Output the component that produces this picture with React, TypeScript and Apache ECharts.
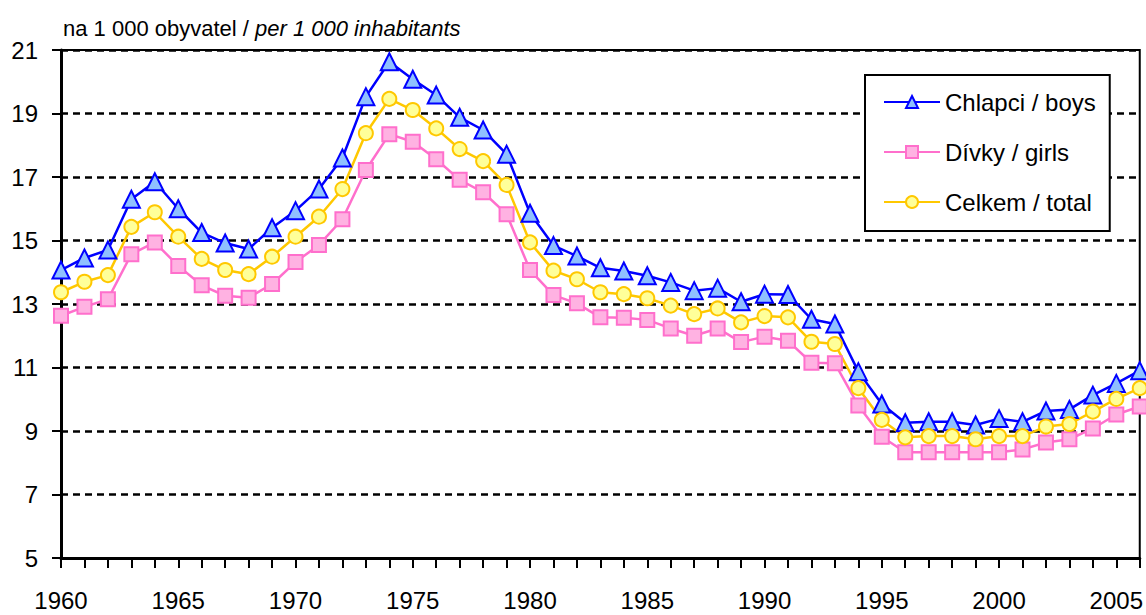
import React, { useEffect, useRef } from "react";
import * as echarts from "echarts";

const years: string[] = [];
for (let y = 1960; y <= 2006; y++) years.push(String(y));

const boys = [
  14.07, 14.45, 14.7, 16.3, 16.85, 16.0, 15.25, 14.92, 14.73, 15.4,
  15.94, 16.62, 17.6, 19.53, 20.63, 20.08, 19.58, 18.88, 18.48, 17.72,
  15.86, 14.84, 14.51, 14.14, 14.04, 13.89, 13.68, 13.42, 13.5, 13.07,
  13.31, 13.3, 12.52, 12.37, 10.87, 9.85, 9.26, 9.29, 9.29, 9.19,
  9.39, 9.29, 9.63, 9.68, 10.13, 10.5, 10.9,
];
const girls = [
  12.63, 12.91, 13.15, 14.57, 14.94, 14.2, 13.59, 13.26, 13.2, 13.63,
  14.32, 14.86, 15.67, 17.22, 18.35, 18.11, 17.56, 16.91, 16.52, 15.83,
  14.07, 13.28, 13.02, 12.58, 12.57, 12.5, 12.23, 12.0, 12.23, 11.8,
  11.97, 11.84, 11.15, 11.13, 9.8, 8.82, 8.33, 8.33, 8.33, 8.33,
  8.33, 8.42, 8.64, 8.74, 9.08, 9.52, 9.77,
];
const total = [
  13.37, 13.7, 13.91, 15.43, 15.89, 15.12, 14.42, 14.07, 13.94, 14.49,
  15.12, 15.75, 16.62, 18.38, 19.46, 19.11, 18.53, 17.88, 17.5, 16.75,
  14.94, 14.05, 13.78, 13.37, 13.31, 13.18, 12.95, 12.68, 12.86, 12.42,
  12.62, 12.58, 11.81, 11.74, 10.35, 9.35, 8.8, 8.84, 8.84, 8.74,
  8.84, 8.84, 9.14, 9.22, 9.61, 10.01, 10.35,
];

const seriesNames = ["Chlapci / boys", "Dívky / girls", "Celkem / total"];
const titleMain = "na 1 000 obyvatel / ";
const titleItalic = "per 1 000 inhabitants";

const FONT = "'Liberation Sans', Arial, sans-serif";

export default function App() {
  const ref = useRef<HTMLDivElement>(null);
  useEffect(() => {
    if (!ref.current) return;
    const chart = echarts.init(ref.current, null, { renderer: "svg" });
    chart.setOption({
      animation: false,
      backgroundColor: "#fff",
      textStyle: { fontFamily: FONT },
      title: {
        text: `{a|${titleMain}}{b|${titleItalic}}`,
        left: 58,
        top: 12,
        textStyle: {
          fontWeight: "normal",
          rich: {
            a: { fontFamily: FONT, fontSize: 22, color: "#000", fontWeight: "normal" },
            b: { fontFamily: FONT, fontSize: 22, color: "#000", fontStyle: "italic", fontWeight: "normal" },
          },
        },
      },
      grid: {
        left: 61,
        right: 4,
        top: 50,
        bottom: 57,
        show: true,
        borderColor: "#000",
        borderWidth: 2,
        backgroundColor: "#fff",
      },
      legend: {
        orient: "vertical",
        left: 865,
        top: 75,
        backgroundColor: "#fff",
        borderColor: "#000",
        borderWidth: 2,
        padding: [15, 14, 17, 18],
        itemWidth: 56,
        itemHeight: 15,
        itemGap: 26,
        textStyle: { fontFamily: FONT, fontSize: 24, color: "#000" },
        data: seriesNames,
      },
      xAxis: {
        type: "category",
        data: years,
        boundaryGap: false,
        axisLine: { lineStyle: { color: "#000", width: 3 } },
        axisTick: { interval: 0, length: 10, lineStyle: { color: "#000", width: 2 } },
        axisLabel: {
          interval: (i: number, v: string) => Number(v) % 5 === 0,
          fontFamily: FONT,
          fontSize: 24,
          color: "#000",
          margin: 30,
        },
        splitLine: { show: false },
      },
      yAxis: {
        type: "value",
        min: 5,
        max: 21,
        interval: 2,
        axisLine: { show: true, lineStyle: { color: "#000", width: 3 } },
        axisTick: { show: true, length: 9, lineStyle: { color: "#000", width: 2 } },
        axisLabel: { fontFamily: FONT, fontSize: 24, color: "#000", margin: 23 },
        splitLine: { lineStyle: { color: "#000", width: 2.5, type: [7, 5] } },
      },
      series: [
        {
          name: seriesNames[0],
          type: "line",
          data: boys,
          showAllSymbol: true,
          symbol: "triangle",
          symbolSize: 17,
          lineStyle: { color: "#0000ff", width: 2.5 },
          itemStyle: { color: "#8fc0ff", borderColor: "#0000ff", borderWidth: 2 },
        },
        {
          name: seriesNames[1],
          type: "line",
          data: girls,
          showAllSymbol: true,
          symbol: "rect",
          symbolSize: 14,
          lineStyle: { color: "#ff6fcc", width: 2.5 },
          itemStyle: { color: "#ffb2e2", borderColor: "#ff6fcc", borderWidth: 2 },
        },
        {
          name: seriesNames[2],
          type: "line",
          data: total,
          showAllSymbol: true,
          symbol: "circle",
          symbolSize: 14,
          lineStyle: { color: "#ffc800", width: 2.5 },
          itemStyle: { color: "#ffff99", borderColor: "#ffc800", borderWidth: 2 },
        },
      ],
    });
    return () => chart.dispose();
  }, []);
  return (
    <div
      ref={ref}
      style={{ position: "fixed", left: 0, top: 0, width: 1146, height: 615, background: "#fff" }}
    />
  );
}
